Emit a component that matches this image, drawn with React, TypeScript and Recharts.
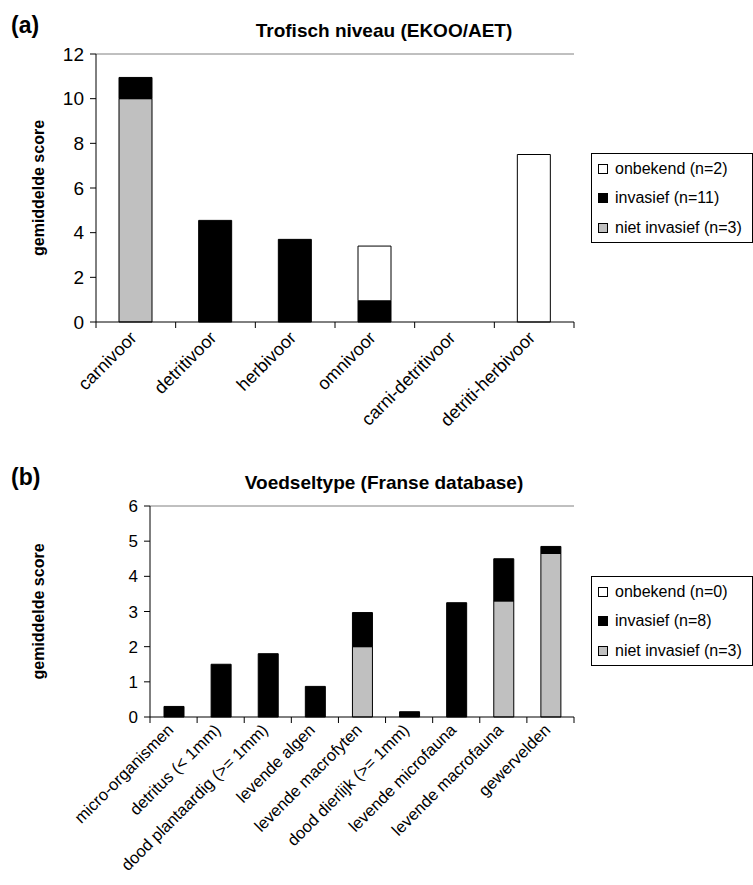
import React from "react";
import {
  BarChart, Bar, XAxis, YAxis, ReferenceLine, Legend,
} from "recharts";

// (a) Trofisch niveau
const trofCategories = ["carnivoor", "detritivoor", "herbivoor", "omnivoor", "carni-detritivoor", "detriti-herbivoor"];
const trofNietInvasief = [10, 0, 0, 0, 0, 0];
const trofInvasief = [0.95, 4.55, 3.7, 0.95, 0, 0];
const trofOnbekend = [0, 0, 0, 2.45, 0, 7.5];
const trofTicks = [0, 2, 4, 6, 8, 10, 12];
const trofNames = ["niet invasief (n=3)", "invasief (n=11)", "onbekend (n=2)"];

// (b) Voedseltype
const voedCategories = [
  "micro-organismen", "detritus (< 1mm)", "dood plantaardig (>= 1mm)", "levende algen",
  "levende macrofyten", "dood dierlijk (>= 1mm)", "levende microfauna", "levende macrofauna", "gewervelden",
];
const voedNietInvasief = [0, 0, 0, 0, 2.0, 0, 0, 3.3, 4.65];
const voedInvasief = [0.3, 1.5, 1.8, 0.87, 0.97, 0.15, 3.25, 1.2, 0.2];
const voedOnbekend = [0, 0, 0, 0, 0, 0, 0, 0, 0];
const voedTicks = [0, 1, 2, 3, 4, 5, 6];
const voedNames = ["niet invasief (n=3)", "invasief (n=8)", "onbekend (n=0)"];

const FONT = "'Liberation Sans', Arial, sans-serif";
const GREY = "#C0C0C0";
const legendOrder = ["onb", "inv", "ni"];

const build = (cats: string[], ni: number[], inv: number[], onb: number[]) =>
  cats.map((c, i) => ({ name: c, ni: ni[i], inv: inv[i], onb: onb[i] }));

const CatTick = ({ x, y, payload, index, bw, n, fontSize, dx, dy }: any) => (
  <g transform={`translate(${x},${y})`}>
    <line x1={-bw / 2} y1={0} x2={-bw / 2} y2={6} stroke="#000" />
    {index === n - 1 && <line x1={bw / 2} y1={0} x2={bw / 2} y2={6} stroke="#000" />}
    <text
      textAnchor="end"
      fontSize={fontSize}
      fontFamily={FONT}
      fill="#000"
      transform={`translate(${dx},${dy}) rotate(-45)`}
    >
      {payload.value}
    </text>
  </g>
);

const LegendBox = ({ payload, fontSize }: any) => {
  const items = legendOrder
    .map((k) => (payload || []).find((it: any) => it.dataKey === k))
    .filter(Boolean);
  return (
    <div style={{
      border: "1px solid #000", background: "#fff", width: 162, height: 90,
      boxSizing: "border-box", paddingTop: 0, fontFamily: FONT, fontSize,
    }}>
      {items.map((it: any) => (
        <div key={it.dataKey} style={{ height: 29.5, display: "flex", alignItems: "center", paddingLeft: 6, whiteSpace: "nowrap" }}>
          <span style={{
            display: "inline-block", width: 8, height: 8, border: "1px solid #000",
            background: it.payload?.fill ?? it.color, marginRight: 7,
          }} />
          <span>{it.value}</span>
        </div>
      ))}
    </div>
  );
};

interface PanelProps {
  top: number;
  height: number;
  data: any[];
  names: string[];
  ticks: number[];
  plotLeft: number;
  plotTop: number;
  plotBottom: number;
  xHeight: number;
  barSize: number;
  tickFont: number;
  catFont: number;
  legendTop: number;
  dx: number;
  dy: number;
}

function Panel(p: PanelProps) {
  const W = 753;
  const plotRight = 574;
  const yW = 60;
  const bw = (plotRight - p.plotLeft) / p.data.length;
  const max = p.ticks[p.ticks.length - 1];
  return (
    <div style={{ position: "absolute", left: 0, top: p.top }}>
      <BarChart
        width={W}
        height={p.height}
        data={p.data}
        margin={{
          left: p.plotLeft - yW,
          right: W - plotRight,
          top: p.plotTop,
          bottom: p.height - p.plotBottom - p.xHeight,
        }}
        barSize={p.barSize}
      >
        <XAxis
          dataKey="name"
          interval={0}
          axisLine={{ stroke: "#000" }}
          tickLine={false}
          tickSize={0}
          tickMargin={0}
          height={p.xHeight}
          tick={<CatTick bw={bw} n={p.data.length} fontSize={p.catFont} dx={p.dx} dy={p.dy} />}
        />
        <YAxis
          domain={[0, max]}
          ticks={p.ticks}
          width={yW}
          axisLine={{ stroke: "#000" }}
          tickLine={{ stroke: "#000" }}
          tickSize={6}
          tickMargin={6}
          tick={{ fill: "#000", fontSize: p.tickFont, fontFamily: FONT }}
          label={{
            content: (lp: any) => {
              const vb = lp.viewBox || {};
              const cy = vb.y + vb.height / 2;
              return (
                <text
                  x={0}
                  y={0}
                  transform={`translate(44,${cy}) rotate(-90)`}
                  textAnchor="middle"
                  fontSize={16}
                  fontWeight="bold"
                  fontFamily={FONT}
                  fill="#000"
                >
                  gemiddelde score
                </text>
              );
            },
          }}
        />
        <YAxis
          yAxisId="r"
          orientation="right"
          width={0}
          domain={[0, max]}
          tick={false}
          tickLine={false}
          axisLine={{ stroke: "#808080" }}
        />
        <ReferenceLine y={max} stroke="#808080" ifOverflow="extendDomain" />
        <Legend
          layout="horizontal"
          align="center"
          verticalAlign="middle"
          wrapperStyle={{ left: 591, top: p.legendTop - p.top, width: 162, height: 90 }}
          content={<LegendBox fontSize={16} />}
        />
        <Bar dataKey="ni" name={p.names[0]} stackId="s" fill={GREY} stroke="#000" strokeWidth={1} isAnimationActive={false} />
        <Bar dataKey="inv" name={p.names[1]} stackId="s" fill="#000" stroke="#000" strokeWidth={1} isAnimationActive={false} />
        <Bar dataKey="onb" name={p.names[2]} stackId="s" fill="#fff" stroke="#000" strokeWidth={1} isAnimationActive={false} />
      </BarChart>
    </div>
  );
}

const titleStyle: React.CSSProperties = {
  position: "absolute", left: 384, transform: "translateX(-50%)", whiteSpace: "nowrap",
  fontFamily: FONT, fontWeight: "bold", fontSize: 19, lineHeight: "19px",
};
const panelLabel: React.CSSProperties = {
  position: "absolute", left: 11, fontFamily: FONT, fontWeight: "bold", fontSize: 23, lineHeight: "23px",
};

export default function App() {
  const trofData = build(trofCategories, trofNietInvasief, trofInvasief, trofOnbekend);
  const voedData = build(voedCategories, voedNietInvasief, voedInvasief, voedOnbekend);
  return (
    <div style={{ position: "absolute", left: 0, top: 0, width: 753, height: 885, background: "#fff", overflow: "hidden" }}>
      <div style={{ ...panelLabel, top: 14 }}>(a)</div>
      <div style={{ ...titleStyle, top: 21 }}>Trofisch niveau (EKOO/AET)</div>
      <Panel
        top={0}
        height={430}
        data={trofData}
        names={trofNames}
        ticks={trofTicks}
        plotLeft={96}
        plotTop={54}
        plotBottom={322}
        xHeight={100}
        barSize={33}
        tickFont={19}
        catFont={18}
        legendTop={153}
        dx={2}
        dy={17}
      />
      <div style={{ ...panelLabel, top: 466 }}>(b)</div>
      <div style={{ ...titleStyle, top: 473 }}>Voedseltype (Franse database)</div>
      <Panel
        top={440}
        height={445}
        data={voedData}
        names={voedNames}
        ticks={voedTicks}
        plotLeft={150}
        plotTop={66}
        plotBottom={277}
        xHeight={160}
        barSize={20}
        tickFont={17}
        catFont={16.5}
        legendTop={576}
        dx={1}
        dy={14}
      />
    </div>
  );
}
